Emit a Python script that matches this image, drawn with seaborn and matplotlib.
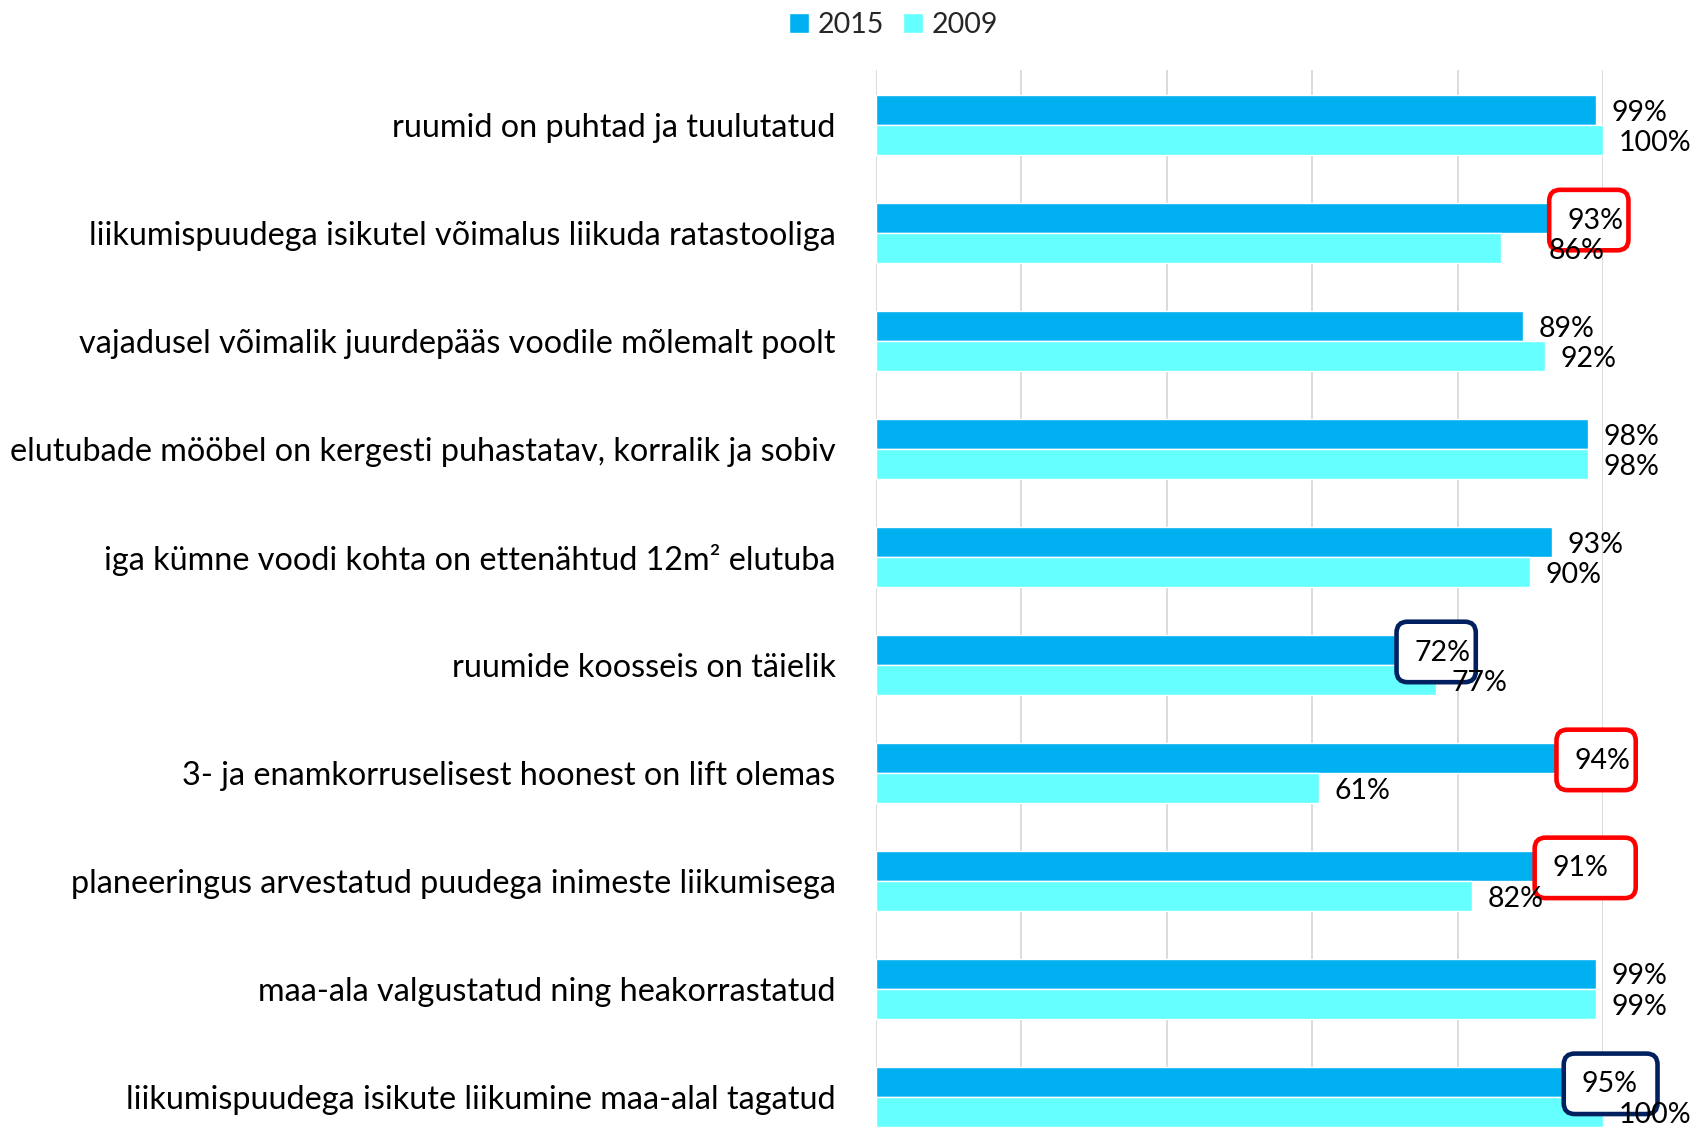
import matplotlib
matplotlib.use("Agg")
import matplotlib.pyplot as plt
from matplotlib.patches import FancyBboxPatch
from matplotlib.transforms import IdentityTransform
import seaborn as sns
import pandas as pd

categories = [
    "ruumid on puhtad ja tuulutatud",
    "liikumispuudega isikutel võimalus liikuda ratastooliga",
    "vajadusel võimalik juurdepääs voodile mõlemalt poolt",
    "elutubade mööbel on kergesti puhastatav, korralik ja sobiv",
    "iga kümne voodi kohta on ettenähtud 12m² elutuba",
    "ruumide koosseis on täielik",
    "3- ja enamkorruselisest hoonest on lift olemas",
    "planeeringus arvestatud puudega inimeste liikumisega",
    "maa-ala valgustatud ning heakorrastatud",
    "liikumispuudega isikute liikumine maa-alal tagatud",
]
v2015 = [0.99, 0.93, 0.89, 0.98, 0.93, 0.72, 0.94, 0.91, 0.99, 0.95]
v2009 = [1.00, 0.86, 0.92, 0.98, 0.90, 0.77, 0.61, 0.82, 0.99, 1.00]
series = ["2015", "2009"]
colors = ["#00B0F0", "#66FFFF"]
# highlighted 2015 labels: category index -> box colour
highlights = {1: "#FF0000", 5: "#002060", 6: "#FF0000", 7: "#FF0000", 9: "#002060"}

df = pd.DataFrame({
    "cat": categories * 2,
    "val": v2015 + v2009,
    "year": [series[0]] * len(categories) + [series[1]] * len(categories),
})

sns.set_theme(style="white")
plt.rcParams["font.family"] = ["Lato", "DejaVu Sans"]

W, H = 1695, 1127
fig = plt.figure(figsize=(W / 100, H / 100), dpi=100)
ax = fig.add_axes([876 / W, 0.0, 727 / W, 1 - 70 / H])

sns.barplot(data=df, y="cat", x="val", hue="year", hue_order=series,
            palette=colors, orient="h", width=0.56, dodge=True,
            saturation=1, errorbar=None, ax=ax, legend=True, zorder=2)

ax.set_xlim(0, 1.0)
ax.set_ylim(9.28, -0.51)
ax.set_xticks([0, 0.2, 0.4, 0.6, 0.8, 1.0])
ax.set_xticklabels([])
ax.grid(axis="x", color="#D9D9D9", linewidth=1.3, zorder=0)
ax.grid(axis="y", visible=False)
for s in ax.spines.values():
    s.set_visible(False)
ax.set_xlabel("")
ax.set_ylabel("")
ax.tick_params(axis="y", length=0, pad=29, labelsize=23.3)
for t in ax.get_yticklabels():
    t.set_color("#000000")

# highlight boxes around selected 2015 labels (drawn in pixel space)
box_right = {7: 0.135, 9: 0.125}
for i, col in highlights.items():
    v = v2015[i]
    right = box_right.get(i, 0.105)
    x0, y0 = ax.transData.transform((v - 0.004, i + 0.16))
    x1, y1 = ax.transData.transform((v + right, i - 0.40))
    box = FancyBboxPatch((x0, y0), x1 - x0, y1 - y0,
                         boxstyle="round,pad=0,rounding_size=11",
                         fc="white", ec=col, lw=3.3,
                         zorder=3, clip_on=False)
    box.set_transform(IdentityTransform())
    ax.add_artist(box)

# value labels
extra = {(1, 1): 23}
for si, vals in enumerate([v2015, v2009]):
    for i, v in enumerate(vals):
        y = i + (-0.14 if si == 0 else 0.14)
        dx = 11 + extra.get((i, si), 0)
        ax.annotate(f"{int(round(v * 100))}%", xy=(v, y), xytext=(dx, -2),
                    textcoords="offset points", ha="left", va="center",
                    fontsize=20.5, color="#000000", annotation_clip=False,
                    zorder=5)

leg = ax.legend(loc="center", bbox_to_anchor=(893.5 / W, 1 - 25 / H),
                bbox_transform=fig.transFigure, ncol=2, frameon=False,
                fontsize=20.5, handlelength=0.7, handleheight=0.7,
                handletextpad=0.3, columnspacing=0.65, borderpad=0)

fig.savefig("out.png", dpi=100)
